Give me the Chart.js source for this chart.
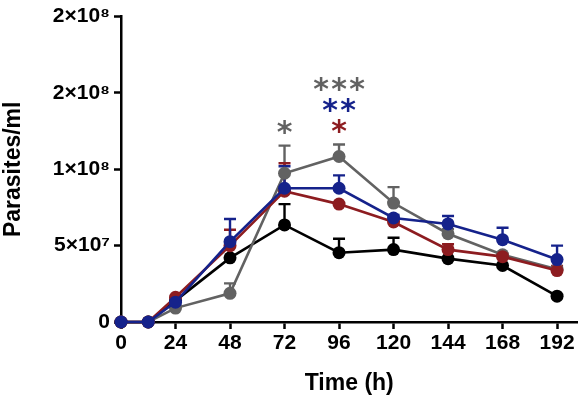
<!DOCTYPE html>
<html>
<head>
<meta charset="utf-8">
<title>Parasites over time</title>
<script src="https://cdn.jsdelivr.net/npm/chart.js@4.4.1/dist/chart.umd.min.js"></script>
<style>
  html, body { margin: 0; padding: 0; background: #fff; }
  #wrap { width: 584px; height: 402px; }
</style>
</head>
<body>
<div id="wrap"><canvas id="growthChart" width="584" height="402"></canvas></div>
<script>
// time points (h)
const timePoints = [0, 12, 24, 48, 72, 96, 120, 144, 168, 192];
const xTickValues = [0, 24, 48, 72, 96, 120, 144, 168, 192];
const yTickValues = [0, 5e7, 1e8, 1.5e8, 2e8];
const yTickLabels = ["0", "5\u00d710\u2077", "1\u00d710\u2078", "2\u00d710\u2078", "2\u00d710\u2078"];

// mean parasites/ml per series
const blackMean = [0, 0, 1.4e7, 4.2e7, 6.36e7, 4.54e7, 4.74e7, 4.15e7, 3.7e7, 1.69e7];
const grayMean  = [0, 0, 0.91e7, 1.88e7, 9.74e7, 1.084e8, 7.79e7, 5.78e7, 4.4e7, 3.45e7];
const redMean   = [0, 0, 1.62e7, 5.0e7, 8.57e7, 7.72e7, 6.55e7, 4.74e7, 4.28e7, 3.37e7];
const blueMean  = [0, 0, 1.3e7, 5.26e7, 8.76e7, 8.76e7, 6.81e7, 6.42e7, 5.39e7, 4.09e7];

// upper error (SEM)
const blackErr = [0, 0, 0, 0, 1.36e7, 0.91e7, 0.78e7, 0, 0, 0];
const grayErr  = [0, 0, 0.2e7, 0.65e7, 1.81e7, 0.78e7, 1.04e7, 0.3e7, 0, 0];
const redErr   = [0, 0, 0, 1.04e7, 1.83e7, 0, 0.2e7, 0.35e7, 0.2e7, 0.3e7];
const blueErr  = [0, 0, 0, 1.49e7, 1.44e7, 0.84e7, 0.2e7, 0.52e7, 0.78e7, 0.91e7];

// significance marks
const sigTimes  = [72, 96, 96, 96];
const sigTexts  = ["*", "*", "**", "***"];
const sigSeries = ["gray", "red", "blue", "gray"];

const colors = { black: "#000000", gray: "#626262", red: "#8d1c20", blue: "#15228b" };
const FONT = "'Liberation Sans', Arial, Helvetica, sans-serif";

function lineSet(key, data, err) {
    return {
        label: key,
        data: timePoints.map((t, i) => ({ x: t, y: data[i] })),
        errors: err,
        borderColor: colors[key],
        backgroundColor: colors[key],
        pointBackgroundColor: colors[key],
        pointBorderWidth: 0,
        pointRadius: 6.5,
        borderWidth: 2.6,
        tension: 0,
        clip: false
    };
}

// error bars (upper only, GraphPad style)
const errorBars = {
    id: "errorBars",
    beforeDatasetsDraw(chart) {
        const ctx = chart.ctx, xs = chart.scales.x, ys = chart.scales.y;
        ctx.save();
        ctx.lineWidth = 2.4;
        chart.data.datasets.slice().reverse().forEach(ds => {
            ctx.strokeStyle = ds.borderColor;
            ds.data.forEach((p, i) => {
                const e = ds.errors[i];
                if (!e) return;
                const x = xs.getPixelForValue(p.x);
                const y0 = ys.getPixelForValue(p.y);
                const y1 = ys.getPixelForValue(p.y + e);
                ctx.beginPath();
                ctx.moveTo(x, y0); ctx.lineTo(x, y1);
                ctx.moveTo(x - 6, y1); ctx.lineTo(x + 6, y1);
                ctx.stroke();
            });
        });
        ctx.restore();
    }
};

// asterisks stacked above the highest error bar at that time
const sigMarks = {
    id: "sigMarks",
    afterDatasetsDraw(chart) {
        const ctx = chart.ctx, xs = chart.scales.x, ys = chart.scales.y;
        ctx.save();
        ctx.font = "bold 30px 'DejaVu Sans', sans-serif";
        ctx.textAlign = "center";
        ctx.textBaseline = "alphabetic";
        const used = {};
        sigTimes.forEach((t, k) => {
            const idx = timePoints.indexOf(t);
            let top = Infinity;
            chart.data.datasets.forEach(ds => {
                top = Math.min(top, ys.getPixelForValue(ds.data[idx].y + ds.errors[idx]));
            });
            const n = used[t] || 0;
            used[t] = n + 1;
            const cy = top - 18 - n * 21;
            const txt = sigTexts[k];
            const m = ctx.measureText("*");
            const shift = (m.actualBoundingBoxAscent - m.actualBoundingBoxDescent) / 2;
            const step = 18;
            const x0 = xs.getPixelForValue(t) - (txt.length - 1) * step / 2;
            ctx.fillStyle = colors[sigSeries[k]];
            for (let c = 0; c < txt.length; c++) {
                ctx.fillText(txt[c], x0 + c * step, cy + shift);
            }
        });
        ctx.restore();
    }
};

new Chart(document.getElementById("growthChart").getContext("2d"), {
    type: "line",
    data: {
        datasets: [
            lineSet("blue", blueMean, blueErr),
            lineSet("red", redMean, redErr),
            lineSet("gray", grayMean, grayErr),
            lineSet("black", blackMean, blackErr)
        ]
    },
    options: {
        responsive: false,
        animation: false,
        layout: { padding: { top: 14, right: 0, left: 0, bottom: 0 } },
        plugins: { legend: { display: false }, tooltip: { enabled: false } },
        scales: {
            x: {
                type: "linear",
                min: 0,
                max: 201,
                afterBuildTicks: s => { s.ticks = xTickValues.map(v => ({ value: v })); },
                afterFit: s => { s.height = 80; },
                ticks: { color: "#000", font: { family: FONT, size: 21, weight: "bold" }, padding: 2, maxRotation: 0 },
                grid: { drawOnChartArea: false, drawTicks: true, tickLength: 7, tickWidth: 2.5, tickColor: "#000" },
                border: { display: true, color: "#000", width: 2.5 },
                title: { display: true, text: "Time (h)", color: "#000",
                         font: { family: FONT, size: 23, weight: "bold" }, padding: { top: 4, bottom: 5 } }
            },
            y: {
                type: "linear",
                min: 0,
                max: 2e8,
                afterBuildTicks: s => { s.ticks = yTickValues.map(v => ({ value: v })); },
                afterFit: s => { s.width = 121; },
                ticks: {
                    color: "#000",
                    font: { family: FONT, size: 21, weight: "bold" },
                    padding: 4,
                    callback: v => yTickLabels[yTickValues.indexOf(v)]
                },
                grid: { drawOnChartArea: false, drawTicks: true, tickLength: 7, tickWidth: 2.5, tickColor: "#000" },
                border: { display: true, color: "#000", width: 2.5 },
                title: { display: true, text: "Parasites/ml", color: "#000",
                         font: { family: FONT, size: 23, weight: "bold" }, padding: { top: 0, bottom: 3 } }
            }
        }
    },
    plugins: [errorBars, sigMarks]
});
</script>
</body>
</html>
